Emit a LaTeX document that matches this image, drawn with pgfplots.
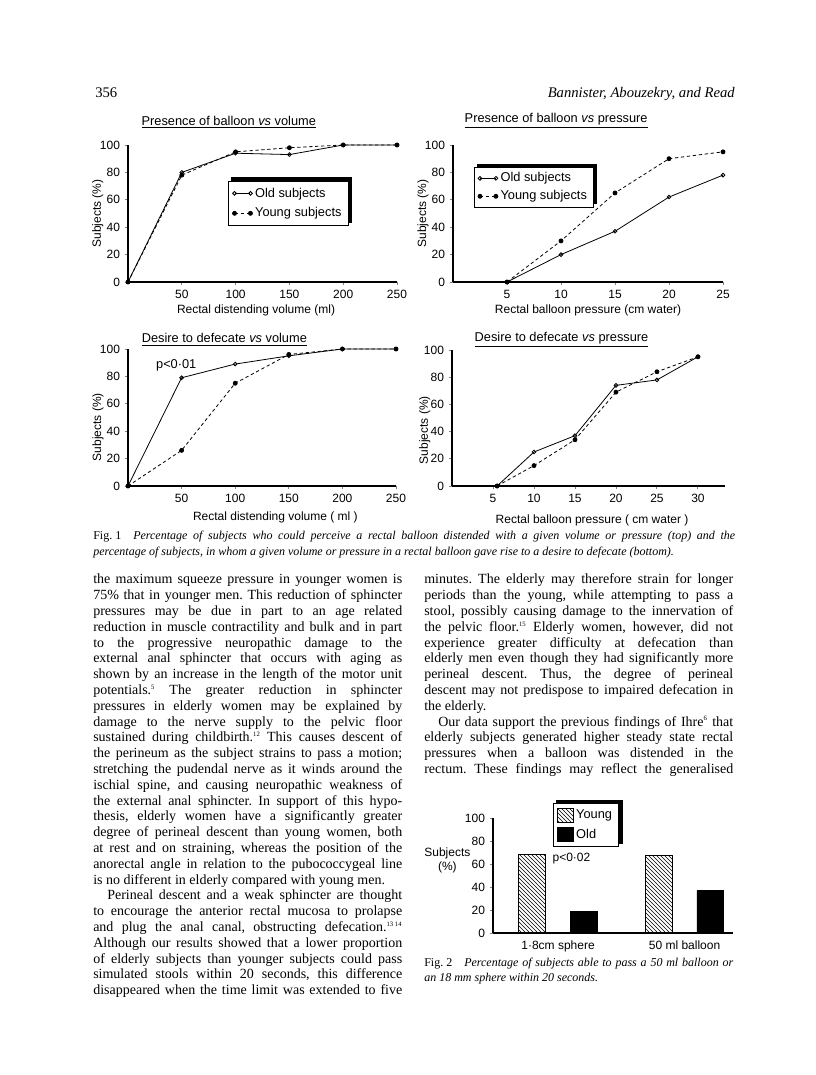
\documentclass[border=0pt]{standalone}
\usepackage{pgfplots}
\pgfplotsset{compat=1.18}
\usepackage{fontspec}
\setmainfont{Liberation Serif}
\newfontfamily\chartfont{Liberation Sans}
\usetikzlibrary{patterns}

\newlength\colw \setlength\colw{231.75pt}
% one justified line / one natural line of body text
\newcommand\J[1]{\hbox to\linewidth{#1}}
\newcommand\N[1]{\hbox{#1}}
\newcommand\sps[1]{\textsuperscript{\fontsize{5}{6}\selectfont #1}}
\newcommand\cf{\chartfont\fontsize{9}{10.5}\selectfont}
\newcommand\tf{\chartfont\fontsize{9.6}{11}\selectfont}
\newcommand\lf{\chartfont\fontsize{9.6}{11}\selectfont}
% heavy shadow along the top and right edge of a legend box
\newcommand\shadow[1]{%
  \fill[black] ([xshift=2.5pt]#1.north west) rectangle ([xshift=2.5pt,yshift=2.5pt]#1.north east);
  \fill[black] ([yshift=2.5pt]#1.south east) rectangle ([xshift=2.5pt,yshift=2.5pt]#1.north east);}
\frenchspacing

\pgfplotsset{
  chart/.style={
    scale only axis, enlargelimits=false, axis lines*=left,
    font=\cf, tick label style={font=\cf},
    /pgf/number format/assume math mode=true,
    tick align=outside, major tick length=2.5pt,
    axis line style={line width=0.8pt}, tick style={line width=0.7pt},
    ymin=0, ymax=100, ytick={0,20,...,100},
    ylabel={Subjects (\%)},
    legend cell align=left,
    legend image code/.code={\draw[#1] plot coordinates {(0cm,0cm) (0.42cm,0cm)};},
    legend style={draw=black, line width=0.7pt, fill=white, font=\lf,
      row sep=2.5pt, inner xsep=3pt, inner ysep=3pt, anchor=north west},
    title style={anchor=west, yshift=0pt, font=\tf},
  },
  old/.style={black, line width=0.6pt, mark=o, mark size=1.4pt, mark options={solid, fill=white}},
  young/.style={black, line width=0.6pt, dash pattern=on 2.5pt off 2pt, mark=*, mark size=1.5pt, mark options={solid}},
}

\begin{document}
\begin{tikzpicture}[x=0.75pt, y=0.75pt]
\path[use as bounding box] (0,0) rectangle (816,1075);

% running head
\node[anchor=base west, inner sep=0, font=\fontsize{11}{13}\selectfont] at (95,977) {356};
\node[anchor=base east, inner sep=0, font=\itshape\fontsize{11}{13}\selectfont] at (735,977) {Bannister, Abouzekry, and Read};

% top left
\begin{axis}[chart, at={(96pt,594.75pt)}, anchor=south west,
  width=201.75pt, height=102.75pt,
  xmin=0, xmax=250, xtick={50,100,...,250},
  title={\underline{Presence of balloon \textit{vs} volume}},
  title style={at={(0.033,1.11)}},
  xlabel={Rectal distending volume (ml)},
  xlabel style={at={(axis description cs:0.476,-0.204)}, anchor=center},
  ylabel style={at={(axis description cs:-0.112,0.5)}, anchor=center},
  legend style={at={(axis cs:93,74)}, name=L1},
]
\addplot[old] coordinates {(0,0) (50,80) (100,94) (150,93) (200,100) (250,100)};
\addplot[young] coordinates {(0,0) (50,78) (100,95) (150,98) (200,100) (250,100)};
\legend{Old subjects, Young subjects}
\end{axis}
\shadow{L1}

% top right
\begin{axis}[chart, at={(339.75pt,594.75pt)}, anchor=south west,
  width=202.5pt, height=102.75pt,
  xmin=0, xmax=25, xtick={5,10,...,25},
  title={\underline{Presence of balloon \textit{vs} pressure}},
  title style={at={(0.026,1.117)}},
  xlabel={Rectal balloon pressure (cm water)},
  xlabel style={at={(axis description cs:0.5,-0.204)}, anchor=center},
  ylabel style={at={(axis description cs:-0.111,0.5)}, anchor=center},
  legend style={at={(axis cs:1.9,84)}, name=L2, row sep=1pt, inner ysep=2pt},
]
\addplot[old] coordinates {(5,0) (10,20) (15,37) (20,62) (25,78)};
\addplot[young] coordinates {(5,0) (10,30) (15,65) (20,90) (25,95)};
\legend{Old subjects, Young subjects}
\end{axis}
\shadow{L2}

% bottom left
\begin{axis}[chart, at={(96pt,441.75pt)}, anchor=south west,
  width=201pt, height=102.75pt,
  xmin=0, xmax=250, xtick={50,100,...,250},
  title={\underline{Desire to defecate \textit{vs} volume}},
  title style={at={(0.034,1.01)}},
  xlabel={Rectal distending volume ( ml )},
  xlabel style={at={(axis description cs:0.55,-0.226)}, anchor=center},
  ylabel style={at={(axis description cs:-0.112,0.43)}, anchor=center},
]
\addplot[old] coordinates {(0,0) (50,79) (100,89) (150,95) (200,100) (250,100)};
\addplot[young] coordinates {(0,0) (50,26) (100,75) (150,96) (200,100) (250,100)};
\node[font=\lf] at (axis cs:45,88) {p<0·01};
\end{axis}

% bottom right
\begin{axis}[chart, at={(339pt,441.75pt)}, anchor=south west,
  width=204.75pt, height=102pt,
  xmin=0, xmax=33.3, xtick={5,10,...,30},
  title={\underline{Desire to defecate \textit{vs} pressure}},
  title style={at={(0.066,1.015)}},
  xlabel={Rectal balloon pressure ( cm water )},
  xlabel style={at={(axis description cs:0.513,-0.25)}, anchor=center},
  ylabel style={at={(axis description cs:-0.1,0.41)}, anchor=center},
]
\addplot[old] coordinates {(5.5,0) (10,25) (15,37) (20,74) (25,78) (30,95)};
\addplot[young] coordinates {(5.5,0) (10,15) (15,34) (20,69) (25,84) (30,95)};
\end{axis}

% Fig. 1 caption
\node[anchor=base west, inner sep=0] at (93,535) {\begin{minipage}[t]{481.5pt}\fontsize{9}{12}\selectfont
\J{\hbox{Fig. 1}\quad\itshape Percentage of subjects who could perceive a rectal balloon distended with a given volume or pressure (top) and the}
\N{\itshape percentage of subjects, in whom a given volume or pressure in a rectal balloon gave rise to a desire to defecate (bottom).}
\end{minipage}};

% left column
\node[anchor=base west, inner sep=0] at (93,491) {\begin{minipage}[t]{\colw}\fontsize{10.5}{11.85}\selectfont
\J{the maximum squeeze pressure in younger women is}
\J{75\% that in younger men. This reduction of sphincter}
\J{pressures may be due in part to an age related}
\J{reduction in muscle contractility and bulk and in part}
\J{to the progressive neuropathic damage to the}
\J{external anal sphincter that occurs with aging as}
\J{shown by an increase in the length of the motor unit}
\J{potentials.\sps{5} The greater reduction in sphincter}
\J{pressures in elderly women may be explained by}
\J{damage to the nerve supply to the pelvic floor}
\J{sustained during childbirth.\sps{12} This causes descent of}
\J{the perineum as the subject strains to pass a motion;}
\J{stretching the pudendal nerve as it winds around the}
\J{ischial spine, and causing neuropathic weakness of}
\J{the external anal sphincter. In support of this hypo-}
\J{thesis, elderly women have a significantly greater}
\J{degree of perineal descent than young women, both}
\J{at rest and on straining, whereas the position of the}
\J{anorectal angle in relation to the pubococcygeal line}
\N{is no different in elderly compared with young men.}
\J{\hskip1em Perineal descent and a weak sphincter are thought}
\J{to encourage the anterior rectal mucosa to prolapse}
\J{and plug the anal canal, obstructing defecation.\sps{13 14}}
\J{Although our results showed that a lower proportion}
\J{of elderly subjects than younger subjects could pass}
\J{simulated stools within 20 seconds, this difference}
\J{disappeared when the time limit was extended to five}
\end{minipage}};

% right column
\node[anchor=base west, inner sep=0] at (424,491) {\begin{minipage}[t]{\colw}\fontsize{10.5}{11.85}\selectfont
\J{minutes. The elderly may therefore strain for longer}
\J{periods than the young, while attempting to pass a}
\J{stool, possibly causing damage to the innervation of}
\J{the pelvic floor.\sps{15} Elderly women, however, did not}
\J{experience greater difficulty at defecation than}
\J{elderly men even though they had significantly more}
\J{perineal descent. Thus, the degree of perineal}
\J{descent may not predispose to impaired defecation in}
\N{the elderly.}
\J{\hskip1em Our data support the previous findings of Ihre\sps{6} that}
\J{elderly subjects generated higher steady state rectal}
\J{pressures when a balloon was distended in the}
\J{rectum. These findings may reflect the generalised}
\end{minipage}};

% Fig. 2 bar chart
\begin{axis}[chart, at={(369.75pt,106.5pt)}, anchor=south west,
  width=180pt, height=86.25pt,
  xmin=0.486, xmax=2.383, xtick={1,2},
  xticklabels={1·8cm sphere, 50 ml balloon},
  xtick style={draw=none},
  ylabel={Subjects\\(\%)},
  ylabel style={rotate=-90, align=center, at={(axis description cs:-0.19,0.63)}, anchor=center},
  legend image code/.code={\draw[#1] (0cm,-0.19cm) rectangle (0.4cm,0.19cm);},
  legend style={at={(axis description cs:0.25,1.13)}, row sep=2pt, inner ysep=3pt, name=L3},
]
\addplot[ybar, bar width=20pt, bar shift=-19.3pt, draw=black, line width=0.7pt, pattern=north west lines] coordinates {(1,68) (2,67)};
\addplot[ybar, bar width=20pt, bar shift=19.3pt, draw=black, fill=black] coordinates {(1,19) (2,37)};
\legend{Young, Old}
\node[font=\cf, anchor=west] at (axis cs:0.92,65) {p<0·02};
\end{axis}
\shadow{L3}

% Fig. 2 caption
\node[anchor=base west, inner sep=0] at (424,108) {\begin{minipage}[t]{\colw}\fontsize{9}{11.25}\selectfont
\J{\hbox{Fig. 2}\quad\itshape Percentage of subjects able to pass a 50 ml balloon or}
\N{\itshape an 18 mm sphere within 20 seconds.}
\end{minipage}};
\end{tikzpicture}
\end{document}
